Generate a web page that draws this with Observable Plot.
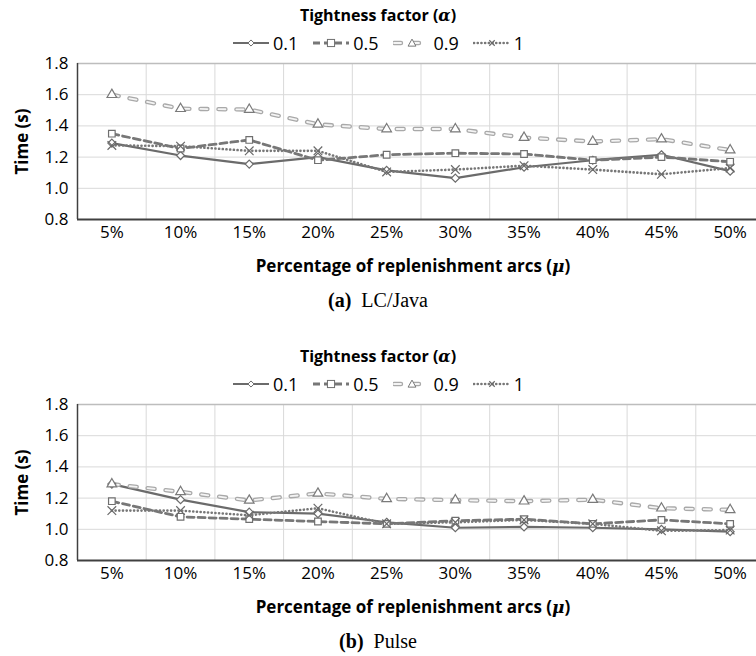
<!DOCTYPE html>
<html>
<head>
<meta charset="utf-8">
<script src="https://cdn.jsdelivr.net/npm/d3@7"></script>
<script src="https://cdn.jsdelivr.net/npm/@observablehq/plot@0.6"></script>
<style>
  html, body { margin: 0; padding: 0; background: #fff; }
  #root { position: relative; width: 756px; height: 656px; overflow: hidden; font-family: "Open Sans", sans-serif; color: #000; }
  .abs { position: absolute; left: 0; width: 756px; text-align: center; white-space: nowrap; }
  .title { font-weight: bold; font-size: 16px; line-height: 22px; }
  .xtitle { font-weight: bold; font-size: 17px; line-height: 22px; }
  .math { font-family: "DejaVu Serif", serif; font-style: italic; font-weight: bold; }
  .caption { font-family: "Liberation Serif", "DejaVu Serif", serif; font-size: 20px; line-height: 22px; }
  .legend { display: flex; justify-content: center; align-items: center; font-size: 18px; line-height: 22px; }
  .legend .item { display: flex; align-items: center; margin: 0 7px; }
  .legend svg { margin-right: 3px; }
  .plot-holder { position: absolute; left: 0; }
  svg [aria-label="y-axis label"] text, svg [aria-label="y-axis label"] { font-weight: bold; font-size: 17px; }
</style>
</head>
<body>
<div id="root"></div>
<script>
// ---------- data ----------
const categories = ["5%", "10%", "15%", "20%", "25%", "30%", "35%", "40%", "45%", "50%"];
const seriesNames = ["0.1", "0.5", "0.9", "1"];
const yTicks = [0.8, 1.0, 1.2, 1.4, 1.6, 1.8];

// (a) LC/Java
const a01 = [1.29, 1.21, 1.155, 1.20, 1.115, 1.065, 1.135, 1.18, 1.215, 1.11];
const a05 = [1.35, 1.255, 1.31, 1.18, 1.215, 1.225, 1.22, 1.18, 1.20, 1.17];
const a09 = [1.60, 1.51, 1.505, 1.41, 1.38, 1.38, 1.325, 1.30, 1.315, 1.245];
const a1  = [1.275, 1.27, 1.24, 1.24, 1.105, 1.12, 1.145, 1.12, 1.09, 1.13];

// (b) Pulse
const b01 = [1.29, 1.19, 1.11, 1.10, 1.045, 1.01, 1.015, 1.01, 1.0, 0.985];
const b05 = [1.18, 1.08, 1.065, 1.05, 1.035, 1.055, 1.065, 1.035, 1.06, 1.035];
const b09 = [1.29, 1.24, 1.185, 1.23, 1.195, 1.187, 1.18, 1.19, 1.135, 1.125];
const b1  = [1.12, 1.12, 1.09, 1.135, 1.035, 1.045, 1.06, 1.035, 0.99, 0.995];

// ---------- styles ----------
const styles = {
  "0.1": { lines: [{ stroke: "#6b6b6b", strokeWidth: 2.2 }], symbol: "diamond2", r: 3.6, mstroke: "#6b6b6b", fill: "white" },
  "0.5": { lines: [{ stroke: "#777777", strokeWidth: 2.8, strokeDasharray: "7,4" }], symbol: "square2", r: 4.2, mstroke: "#6f6f6f", fill: "white" },
  "0.9": { lines: [
            { stroke: "#a9a9a9", strokeWidth: 4.4, strokeDasharray: "7,11", strokeLinecap: "round" },
            { stroke: "#f4f4f4", strokeWidth: 1.8, strokeDasharray: "7,11", strokeLinecap: "round" }],
           symbol: "triangle2", r: 4.6, mstroke: "#7a7a7a", fill: "white" },
  "1":   { lines: [{ stroke: "#777777", strokeWidth: 2.6, strokeDasharray: "0.1,3.6", strokeLinecap: "round" }], symbol: "times", r: 4, mstroke: "#6a6a6a", fill: "none" }
};

const root = document.getElementById("root");

function addDiv(cls, top, html) {
  const d = document.createElement("div");
  d.className = "abs " + cls;
  d.style.top = top + "px";
  d.innerHTML = html;
  root.appendChild(d);
  return d;
}

function legendSwatch(name) {
  const st = styles[name];
  const w = 38, h = 14, cy = 7;
  let s = `<svg width="${w}" height="${h}">`;
  for (const l of st.lines) {
    s += `<line x1="1" x2="${w - 1}" y1="${cy}" y2="${cy}" stroke="${l.stroke}" stroke-width="${l.strokeWidth}" ${l.strokeDasharray ? `stroke-dasharray="${l.strokeDasharray}"` : ""} ${l.strokeLinecap ? `stroke-linecap="${l.strokeLinecap}"` : ""}/>`;
  }
  const cx = w / 2, r = st.r * 0.85;
  if (st.symbol === "diamond2") s += `<path d="M${cx},${cy - r}L${cx + r},${cy}L${cx},${cy + r}L${cx - r},${cy}Z" fill="white" stroke="${st.mstroke}"/>`;
  if (st.symbol === "square2") s += `<rect x="${cx - r}" y="${cy - r}" width="${2 * r}" height="${2 * r}" fill="white" stroke="${st.mstroke}"/>`;
  if (st.symbol === "triangle2") s += `<path d="M${cx},${cy - r}L${cx + r},${cy + r * 0.8}L${cx - r},${cy + r * 0.8}Z" fill="white" stroke="${st.mstroke}"/>`;
  if (st.symbol === "times") s += `<path d="M${cx - r * 0.8},${cy - r * 0.8}L${cx + r * 0.8},${cy + r * 0.8}M${cx + r * 0.8},${cy - r * 0.8}L${cx - r * 0.8},${cy + r * 0.8}" stroke="${st.mstroke}" stroke-width="1.2"/>`;
  s += `</svg>`;
  return s;
}

function legendHTML() {
  return seriesNames.map(n => `<div class="item">${legendSwatch(n)}<span>${n}</span></div>`).join("");
}

function makePlot(values, height) {
  const idx = categories.map((c, i) => i);
  const bounds = categories.slice(1).map((c, i) => i + 0.5);
  const marks = [
    Plot.ruleY(yTicks.slice(1, -1), { stroke: "#d9d9d9", strokeWidth: 1 }),
    Plot.ruleX(bounds, { stroke: "#d9d9d9", strokeWidth: 1 }),
    Plot.ruleY([yTicks[yTicks.length - 1]], { stroke: "#bdbdbd", strokeWidth: 1.5 })
  ];
  seriesNames.forEach((name, k) => {
    const data = values[k].map((v, i) => ({ i, v }));
    for (const l of styles[name].lines) {
      marks.push(Plot.line(data, { x: "i", y: "v", ...l }));
    }
  });
  seriesNames.forEach((name, k) => {
    const st = styles[name];
    const data = values[k].map((v, i) => ({ i, v }));
    marks.push(Plot.dot(data, { x: "i", y: "v", symbol: st.symbol, r: st.r, stroke: st.mstroke, fill: st.fill, strokeWidth: 1.2 }));
  });
  marks.push(Plot.ruleX([-0.5], { stroke: "#404040", strokeWidth: 1.5 }));
  marks.push(Plot.ruleY([yTicks[0]], { stroke: "#404040", strokeWidth: 1.8 }));
  marks.push(Plot.axisX({ ticks: idx, tickFormat: i => categories[i], tickSize: 0, tickPadding: 6, label: null, fontSize: 17 }));
  marks.push(Plot.axisY({ ticks: yTicks, tickFormat: d3.format(".1f"), tickSize: 0, tickPadding: 9, label: "Time (s)", labelAnchor: "center", labelArrow: "none", labelOffset: 62, fontSize: 17 }));
  return Plot.plot({
    width: 756,
    height,
    marginTop: 13,
    marginBottom: 31,
    marginLeft: 77,
    marginRight: 0,
    style: { fontFamily: "Open Sans, sans-serif", fontSize: "17px", color: "#000", background: "white" },
    x: { type: "linear", domain: [-0.5, 9.5], range: [77, 764] },
    y: { domain: [0.8, 1.8] },
    marks
  });
}

function panel(top, values, plotHeight, letter, name) {
  addDiv("title", top + 4, `Tightness factor (<span class="math">α</span>)`);
  addDiv("legend", top + 32, legendHTML());
  const holder = document.createElement("div");
  holder.className = "plot-holder";
  holder.style.top = (top + 50) + "px";
  holder.appendChild(makePlot(values, plotHeight));
  root.appendChild(holder);
  const xt = addDiv("xtitle", top + 50 + plotHeight + 5, `Percentage of replenishment arcs (<span class="math">μ</span>)`);
  xt.style.left = "35px";
  addDiv("caption", top + 50 + plotHeight + 39, `<b>(${letter})</b>&nbsp; ${name}`);
}

panel(0, [a01, a05, a09, a1], 200, "a", "LC/Java");
panel(341, [b01, b05, b09, b1], 200, "b", "Pulse");
</script>
</body>
</html>
